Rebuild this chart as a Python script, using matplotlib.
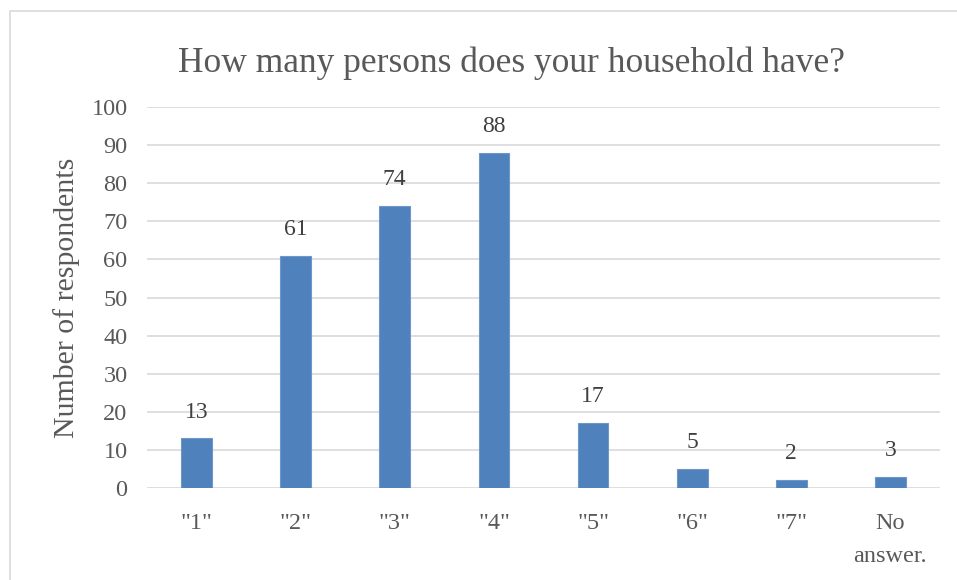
import matplotlib
matplotlib.use("Agg")
import matplotlib.pyplot as plt
from matplotlib.patches import Rectangle

categories = ['"1"', '"2"', '"3"', '"4"', '"5"', '"6"', '"7"', 'No\nanswer.']
values = [13, 61, 74, 88, 17, 5, 2, 3]
yticks = [0, 10, 20, 30, 40, 50, 60, 70, 80, 90, 100]

plt.rcParams['font.family'] = ['Liberation Serif', 'DejaVu Serif']
txt = '#595959'

fig = plt.figure(figsize=(9.57, 5.80), dpi=100)
fig.patches.append(Rectangle((9.5/957, -0.1), 1.2, (580 - 10.5)/580 + 0.1,
                             transform=fig.transFigure, fill=False,
                             edgecolor='#d9d9d9', linewidth=1.2))
ax = fig.add_axes([147/957, 1 - 488/580, (940 - 147)/957, (488 - 107)/580])

x = list(range(len(categories)))
ax.bar(x, values, width=0.31, color='#4f81bd', edgecolor='#6f96c8', linewidth=0.8, zorder=3)
for xi, v in zip(x, values):
    ax.annotate(str(v), (xi, v), xytext=(0, 19), textcoords='offset points',
                ha='center', va='center', fontsize=17, color='#404040')

ax.set_xlim(-0.5, len(categories) - 0.5)
ax.set_ylim(0, 100)
ax.set_yticks(yticks)
ax.set_yticklabels([str(t) for t in yticks], fontsize=17.5, color=txt)
ax.set_xticks(x)
ax.set_xticklabels(categories, fontsize=17.5, color=txt, linespacing=1.75, va='top')
ax.tick_params(axis='both', length=0)
ax.tick_params(axis='x', pad=18)
ax.tick_params(axis='y', pad=14)
ax.grid(axis='y', color='#d9d9d9', linewidth=1.2, zorder=0)
for s in ax.spines.values():
    s.set_visible(False)
ax.set_ylabel('Number of respondents', fontsize=21.5, color=txt, labelpad=8)
fig.text(511/957, 1 - 63/580, 'How many persons does your household have?',
         ha='center', va='center', fontsize=25.5, color=txt)

fig.savefig('out.png', dpi=100)
